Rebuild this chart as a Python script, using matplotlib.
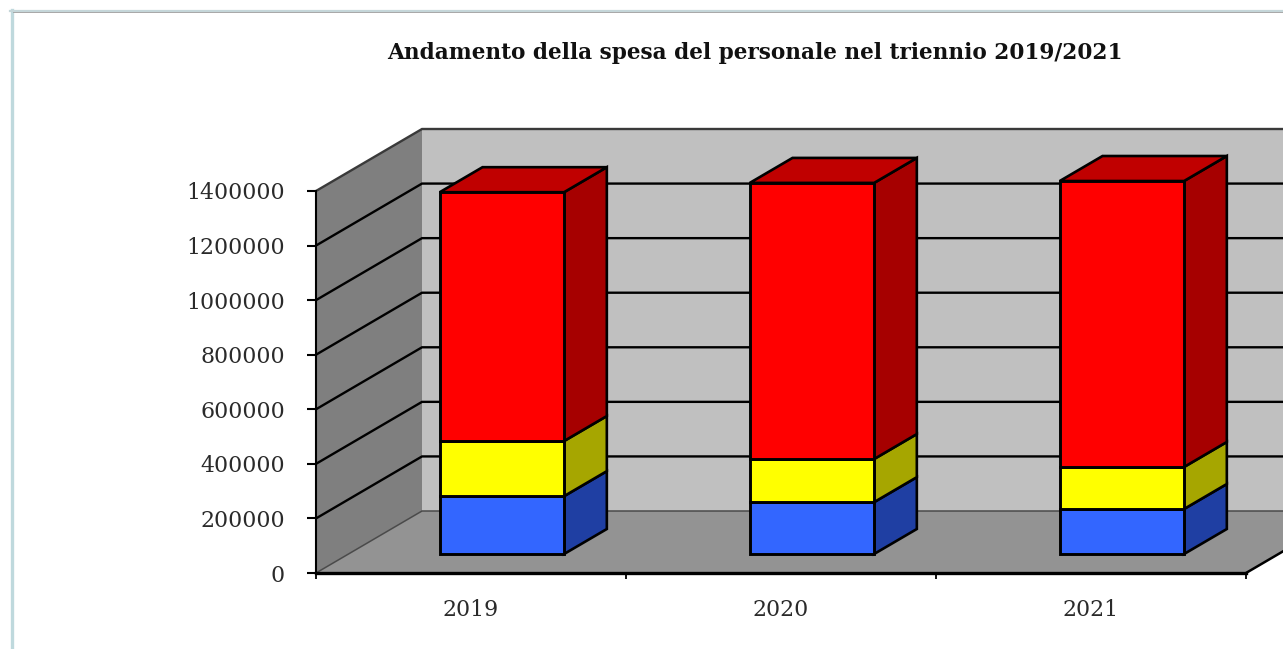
import matplotlib
matplotlib.use("Agg")
import matplotlib.pyplot as plt
from matplotlib.patches import Polygon
from matplotlib.lines import Line2D

W, H = 1283, 649
years = ["2019", "2020", "2021"]
blue_values = [212000, 190000, 165000]
yellow_values = [202000, 158000, 154000]
red_values = [912000, 1012000, 1048000]
value_ticks = [0, 200000, 400000, 600000, 800000, 1000000, 1200000, 1400000]
title_text = "Andamento della spesa del personale nel triennio 2019/2021"

SERIF = "DejaVu Serif"
fig = plt.figure(figsize=(W / 100, H / 100), dpi=100, facecolor="white")
ax = fig.add_axes([316 / W, (H - 573) / H, 930 / W, 382 / H])
ax.patch.set_visible(False)
ax.set_xlim(0, 3)
ax.set_ylim(0, 1400000)

# oblique projection: depth 0 = front of the floor, depth 1 = back wall
DX = 106 / 310
DY = 62 / 382 * 1400000
def P(x, v, d):
    return (x + d * DX, v + d * DY)

def face(points, color, z, edge="none", lw=0):
    ax.add_patch(Polygon(points, closed=True, facecolor=color, edgecolor=edge,
                         linewidth=lw, clip_on=False, zorder=z, joinstyle="miter"))

XR = 3.0
TOP = value_ticks[-1]
# back wall, side wall, floor
face([P(0, 0, 1), P(XR, 0, 1), P(XR, TOP, 1), P(0, TOP, 1)], "#C0C0C0", 1)
face([P(0, 0, 0), P(0, 0, 1), P(0, TOP, 1), P(0, TOP, 0)], "#7F7F7F", 1)
face([P(0, 0, 0), P(XR, 0, 0), P(XR, 0, 1), P(0, 0, 1)], "#939393", 1)

def line(pts, color="black", lw=1.5, z=2):
    xs, ys = zip(*pts)
    ax.add_line(Line2D(xs, ys, color=color, lw=lw, clip_on=False, zorder=z,
                       solid_capstyle="butt", solid_joinstyle="miter"))

for v in value_ticks[1:-1]:
    line([P(0, v, 0), P(0, v, 1), P(XR, v, 1)], "black", 1.7)
line([P(0, TOP, 0), P(0, TOP, 1), P(XR, TOP, 1)], "#3A3A3A", 1.7)
line([P(0, 0, 0), P(0, 0, 1), P(XR, 0, 1)], "#4A4A4A", 1.1)
line([P(XR, 0, 0), P(XR, 0, 1)], "black", 1.8)

# stacked 3-D columns
D0, D1 = 19 / 62, 44 / 62
BW = 0.401
CENTER = 0.495
series = [(blue_values, "#3366FF", "#1F3FA3"),
          (yellow_values, "#FFFF00", "#A6A600"),
          (red_values, "#FF0000", "#A60000")]
for i in range(len(years)):
    x0 = i + CENTER - BW / 2
    x1 = x0 + BW
    base = 0
    for vals, front, side in series:
        top = base + vals[i]
        face([P(x1, base, D0), P(x1, base, D1), P(x1, top, D1), P(x1, top, D0)], side, 3, "black", 1.9)
        face([P(x0, base, D0), P(x1, base, D0), P(x1, top, D0), P(x0, top, D0)], front, 4, "black", 2.1)
        base = top
    face([P(x0, base, D0), P(x1, base, D0), P(x1, base, D1), P(x0, base, D1)], "#C00000", 3, "black", 1.9)

# axes
for s in ("top", "right"):
    ax.spines[s].set_visible(False)
ax.spines["left"].set_linewidth(1.5)
ax.spines["bottom"].set_linewidth(2.4)
ax.spines["left"].set_zorder(5)
ax.spines["bottom"].set_zorder(5)
ax.set_yticks(value_ticks)
ax.set_yticklabels([str(v) for v in value_ticks], family=SERIF, fontsize=15.8, color="#2a2a2a")
ax.tick_params(axis="y", length=6.5, width=1.5, pad=16)
ax.set_xticks(range(len(years) + 1))
ax.set_xticklabels([])
ax.set_xticks([i + 0.5 for i in range(len(years))], minor=True)
ax.set_xticklabels(years, minor=True, family=SERIF, fontsize=15.8, color="#2a2a2a")
ax.tick_params(axis="x", which="major", length=4.5, width=1.3)
ax.tick_params(axis="x", which="minor", length=0, pad=19)

fig.text(754.5 / W, 1 - 53 / H, title_text, family=SERIF, fontweight="bold",
         fontsize=15.6, ha="center", va="center", color="#111111")

# window frame
fig.add_artist(Line2D([11.5 / W, 11.5 / W], [0, 1 - 10 / H], color="#BFD9DD", lw=2.4))
fig.add_artist(Line2D([10 / W, 1], [1 - 10.5 / H, 1 - 10.5 / H], color="#C5D6D9", lw=1.6))
fig.add_artist(Line2D([13 / W, 1], [1 - 12 / H, 1 - 12 / H], color="#9A9A9A", lw=0.6))

fig.savefig("out.png", dpi=100)
